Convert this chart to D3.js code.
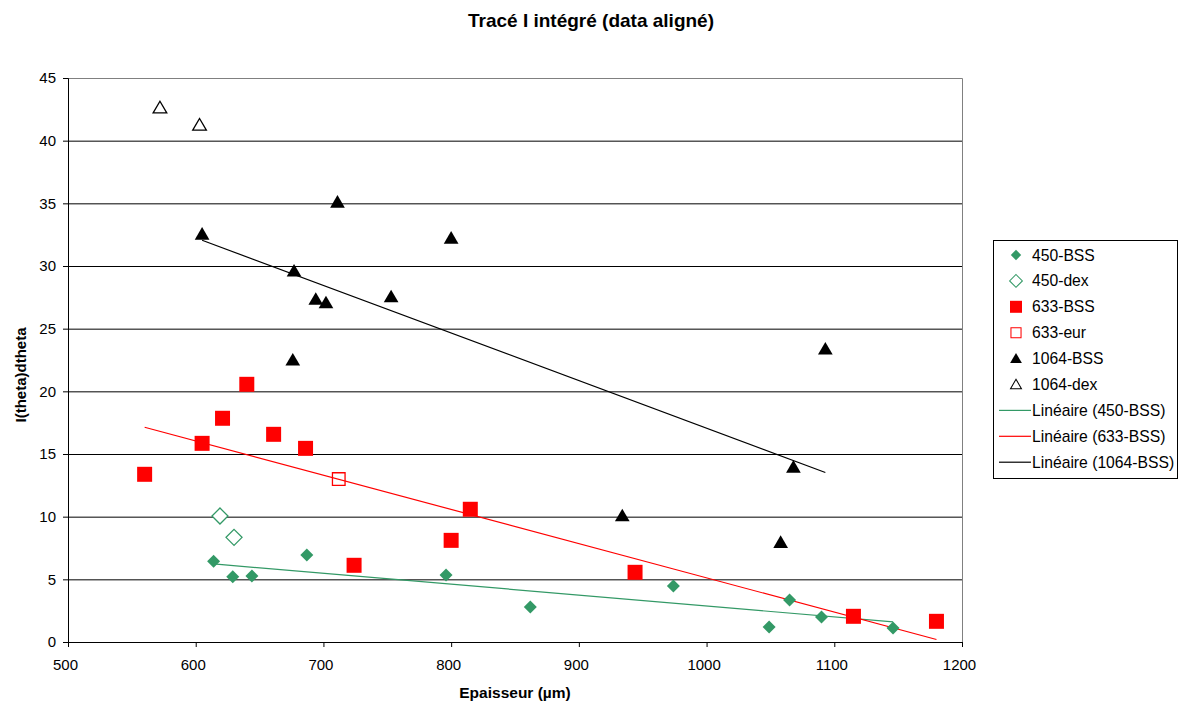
<!DOCTYPE html>
<html>
<head>
<meta charset="utf-8">
<script src="https://cdn.jsdelivr.net/npm/d3@7"></script>
<style>
  body { margin: 0; background: #fff; }
  svg { font-family: "Liberation Sans", Arial, sans-serif; }
</style>
</head>
<body>
<svg width="1184" height="704"></svg>
<script>
// data (épaisseur µm, I(theta)dtheta)
var bss450 = [[614,6.45],[629,5.2],[644,5.27],[687,6.95],[796,5.35],[862,2.8],[974,4.47],[1049,1.2],[1065,3.35],[1090,2.0],[1146,1.12]];
var dex450 = [[619,10.05],[630,8.35]];
var bss633 = [[560,13.38],[605,15.85],[621,17.85],[640,20.56],[661,16.57],[686,15.45],[724,6.12],[800,8.11],[815,10.59],[944,5.56],[1115,2.05],[1180,1.65]];
var eur633 = [[712,13.0]];
var bss1064 = [[605,32.55],[677,29.6],[676,22.5],[694,27.35],[702,27.07],[711,35.1],[753,27.55],[800,32.23],[934,10.08],[1058,7.95],[1068,13.96],[1093,23.38]];
var dex1064 = [[572,42.63],[603,41.25]];

var xTicks = [500,600,700,800,900,1000,1100,1200];
var yTicks = [0,5,10,15,20,25,30,35,40,45];

var green = "#339966", red = "#ff0000";

var svg = d3.select("svg");
var margin = {top: 78, left: 68};
var width = 894, height = 564;

var x = d3.scaleLinear().domain([500,1200]).range([0,width]);
var y = d3.scaleLinear().domain([0,45]).range([height,0]);

var g = svg.append("g")
    .attr("transform", "translate(" + margin.left + "," + margin.top + ")");

// grid lines
g.selectAll(".grid")
    .data(yTicks.filter(function(d){ return d > 0 && d < 45; }))
    .enter().append("line")
    .attr("x1", 0).attr("x2", width)
    .attr("y1", function(d){ return y(d) + 0.5; })
    .attr("y2", function(d){ return y(d) + 0.5; })
    .attr("stroke", "#000").attr("stroke-width", 1);

// plot border (top, right)
g.append("path")
    .attr("d", "M0,0.5H" + (width + 0.5) + "V" + height)
    .attr("fill", "none").attr("stroke", "#808080");

// axes
var xAxis = g.append("g")
    .attr("transform", "translate(0," + height + ")")
    .call(d3.axisBottom(x).tickValues(xTicks).tickFormat(d3.format("d")).tickSize(5).tickPadding(12));
var yAxis = g.append("g")
    .call(d3.axisLeft(y).tickValues(yTicks).tickSize(5).tickPadding(7));
[xAxis, yAxis].forEach(function(a){
  a.selectAll("text").attr("font-size", 15).attr("fill", "#000")
    .attr("font-family", "Liberation Sans, Arial, sans-serif");
  a.selectAll("line, path").attr("stroke", "#000");
});
xAxis.selectAll("text").attr("dx", -3);

// linear regression trend line
function trend(data) {
  var mx = d3.mean(data, function(d){ return d[0]; });
  var my = d3.mean(data, function(d){ return d[1]; });
  var sxy = d3.sum(data, function(d){ return (d[0]-mx)*(d[1]-my); });
  var sxx = d3.sum(data, function(d){ return (d[0]-mx)*(d[0]-mx); });
  var b = sxy / sxx, a = my - b*mx;
  var ext = d3.extent(data, function(d){ return d[0]; });
  return ext.map(function(v){ return [v, a + b*v]; });
}
var line = d3.line()
    .x(function(d){ return x(d[0]); })
    .y(function(d){ return y(d[1]); });

[[bss450, green],[bss633, red],[bss1064, "#000"]].forEach(function(s){
  g.append("path")
    .attr("d", line(trend(s[0])))
    .attr("fill", "none").attr("stroke", s[1]).attr("stroke-width", 1.2);
});

// marker shapes
function diamond(r){ return "M0," + (-r) + "L" + r + ",0L0," + r + "L" + (-r) + ",0Z"; }
function square(r){ return "M" + (-r) + "," + (-r) + "H" + r + "V" + r + "H" + (-r) + "Z"; }
function triangle(r){ return "M0," + (-r) + "L" + (r*1.05) + "," + (r*0.8) + "H" + (-r*1.05) + "Z"; }

var series = [
  {name: "450-BSS", data: bss450, shape: diamond(6.5), fill: green, stroke: "none"},
  {name: "450-dex", data: dex450, shape: diamond(8), fill: "#fff", stroke: green},
  {name: "633-BSS", data: bss633, shape: square(7.5), fill: red, stroke: "none"},
  {name: "633-eur", data: eur633, shape: square(6.3), fill: "none", stroke: red},
  {name: "1064-BSS", data: bss1064, shape: triangle(7), fill: "#000", stroke: "none"},
  {name: "1064-dex", data: dex1064, shape: triangle(6.5), fill: "#fff", stroke: "#000"}
];

series.forEach(function(s){
  g.selectAll(null)
    .data(s.data)
    .enter().append("path")
    .attr("transform", function(d){ return "translate(" + x(d[0]) + "," + y(d[1]) + ")"; })
    .attr("d", s.shape)
    .attr("fill", s.fill)
    .attr("stroke", s.stroke)
    .attr("stroke-width", 1.3);
});

// titles
svg.append("text")
    .attr("x", 591).attr("y", 27)
    .attr("text-anchor", "middle")
    .attr("font-size", 19).attr("font-weight", "bold")
    .text("Tracé I intégré (data aligné)");
svg.append("text")
    .attr("x", margin.left + width/2).attr("y", 698)
    .attr("text-anchor", "middle")
    .attr("font-size", 15.5).attr("font-weight", "bold")
    .text("Epaisseur (µm)");
svg.append("text")
    .attr("transform", "translate(26,375) rotate(-90)")
    .attr("text-anchor", "middle")
    .attr("font-size", 15).attr("font-weight", "bold")
    .text("I(theta)dtheta");

// legend
var lg = svg.append("g").attr("transform", "translate(993,240)");
lg.append("rect")
    .attr("x", 0.5).attr("y", 0.5).attr("width", 184).attr("height", 238)
    .attr("fill", "#fff").attr("stroke", "#000");

var legendItems = series.map(function(s){ return {name: s.name, marker: s}; })
  .concat([
    {name: "Linéaire (450-BSS)", color: green},
    {name: "Linéaire (633-BSS)", color: red},
    {name: "Linéaire (1064-BSS)", color: "#000"}
  ]);

legendItems.forEach(function(it, i){
  var yy = 15 + i * 25.9;
  if (it.marker) {
    lg.append("path")
      .attr("d", it.marker.shape)
      .attr("fill", it.marker.fill)
      .attr("stroke", it.marker.stroke)
      .attr("stroke-width", 1.3)
      .attr("transform", "translate(23," + yy + ") scale(0.8)");
  } else {
    lg.append("line")
      .attr("x1", 6).attr("x2", 38).attr("y1", yy).attr("y2", yy)
      .attr("stroke", it.color).attr("stroke-width", 1.2);
  }
  lg.append("text")
    .attr("x", 39).attr("y", yy + 5.5)
    .attr("font-size", 15.7)
    .text(it.name);
});
</script>
</body>
</html>
